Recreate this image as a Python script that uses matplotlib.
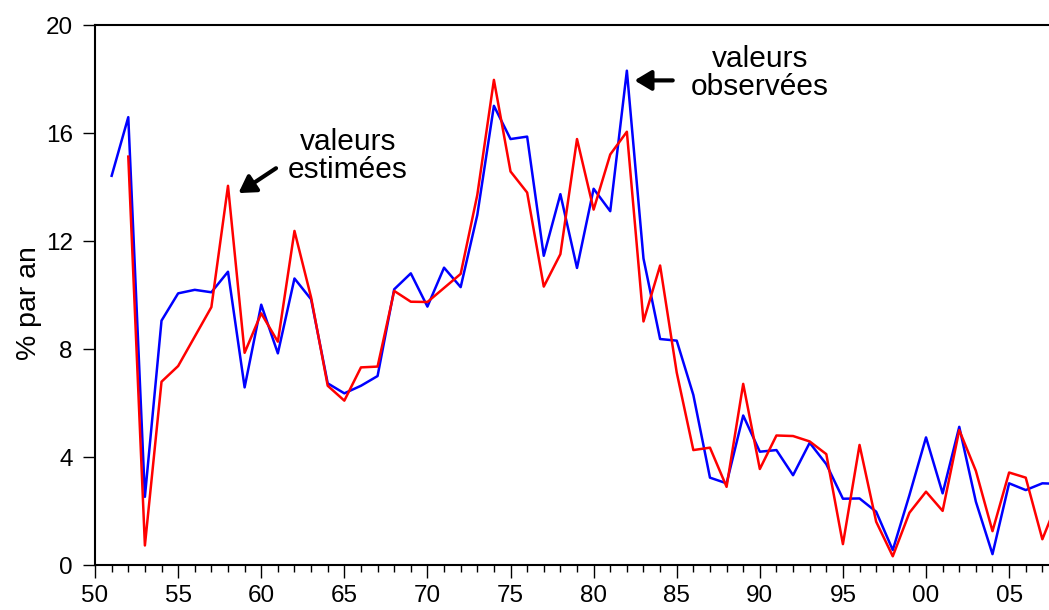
import matplotlib
matplotlib.use('Agg')
import matplotlib.pyplot as plt
import numpy as np
from matplotlib.ticker import MultipleLocator, FuncFormatter

plt.rcParams['font.family'] = ['Liberation Sans', 'DejaVu Sans']

# valeurs observees (blue), 1951-2008
obs_years = np.arange(1951, 2009)
obs = [14.42, 16.59, 2.54, 9.06, 10.07, 10.20, 10.11, 10.87, 6.59, 9.65,
       7.85, 10.62, 9.85, 6.74, 6.37, 6.65, 7.01, 10.22, 10.81, 9.58,
       11.02, 10.30, 12.97, 17.01, 15.78, 15.87, 11.46, 13.74, 11.01, 13.94,
       13.11, 18.31, 11.36, 8.38, 8.32, 6.31, 3.25, 3.04, 5.55, 4.21,
       4.27, 3.34, 4.54, 3.75, 2.47, 2.48, 1.99, 0.57, 2.60, 4.74,
       2.67, 5.13, 2.36, 0.42, 3.04, 2.79, 3.04, 3.02]

# valeurs estimees (red), 1952-2008
est_years = np.arange(1952, 2009)
est = [15.13, 0.74, 6.80, 7.38, 8.47, 9.56, 14.05, 7.87, 9.33, 8.28,
       12.38, 9.92, 6.65, 6.10, 7.33, 7.36, 10.16, 9.76, 9.75, 10.27,
       10.79, 13.71, 17.97, 14.58, 13.80, 10.32, 11.52, 15.78, 13.17, 15.21,
       16.05, 9.03, 11.10, 7.14, 4.27, 4.36, 2.91, 6.72, 3.57, 4.81,
       4.79, 4.59, 4.12, 0.79, 4.46, 1.62, 0.34, 1.95, 2.73, 2.02,
       5.01, 3.50, 1.27, 3.44, 3.25, 0.97, 2.50]

fig = plt.figure(figsize=(10.49, 6.10), dpi=100)
ax = fig.add_axes([0.0906, 0.073, 0.9094, 0.886])

ax.plot(obs_years, obs, color='#0000ff', lw=1.8)
ax.plot(est_years, est, color='#ff0000', lw=1.8)

ax.set_xlim(1950, 2007.4)
ax.set_ylim(0, 20)
ax.yaxis.set_major_locator(MultipleLocator(4))
ax.xaxis.set_major_locator(MultipleLocator(5))
ax.xaxis.set_minor_locator(MultipleLocator(1))
ax.xaxis.set_major_formatter(FuncFormatter(lambda v, p: '%02d' % (int(round(v)) % 100)))

ax.tick_params(axis='both', which='major', labelsize=17.5, direction='out', length=9, width=1)
ax.tick_params(axis='y', which='major', pad=7)
ax.tick_params(axis='x', which='major', pad=5)
ax.tick_params(axis='x', which='minor', direction='out', length=5, width=1)
ax.spines['right'].set_visible(False)
for s in ['left', 'bottom', 'top']:
    ax.spines[s].set_linewidth(1.5)

ax.set_ylabel('% par an', fontsize=20.5)
ax.yaxis.set_label_coords(-0.056, 0.486)

ax.text(1965.2, 15.16, 'valeurs\nestimées', fontsize=21.5, ha='center', va='center', linespacing=1.0)
ax.text(1990.0, 18.21, 'valeurs\nobservées', fontsize=21.5, ha='center', va='center', linespacing=1.0)

arrow = dict(arrowstyle='-|>,head_length=0.5,head_width=0.3', lw=3, color='black',
             mutation_scale=20, shrinkA=0, shrinkB=0)
ax.annotate('', xy=(1958.63, 13.78), xytext=(1960.89, 14.70), arrowprops=arrow)
ax.annotate('', xy=(1982.46, 17.95), xytext=(1984.76, 17.95), arrowprops=arrow)

fig.savefig('out.png', dpi=100)
